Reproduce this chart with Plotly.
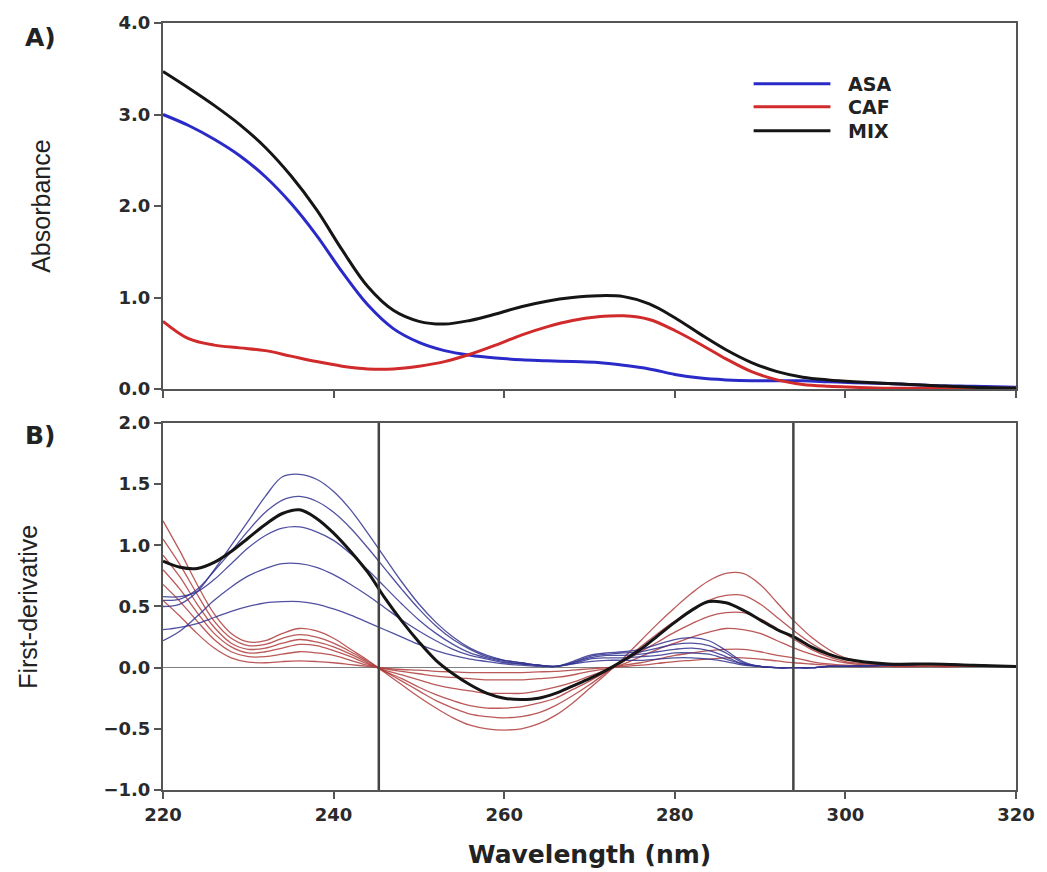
import plotly.graph_objects as go
from plotly.subplots import make_subplots

# ---------------- Panel A: absorbance spectra ----------------
wl_abs = [220, 223, 226, 229, 232, 235, 238, 241, 244, 247, 250, 253, 256, 259, 262,
          265, 268, 271, 274, 277, 280, 283, 286, 289, 292, 295, 298, 301, 305, 310,
          315, 320]
asa_abs = [3.00, 2.88, 2.73, 2.55, 2.32, 2.03, 1.68, 1.28, 0.92, 0.66, 0.51, 0.42, 0.37,
           0.34, 0.32, 0.31, 0.30, 0.29, 0.26, 0.22, 0.16, 0.12, 0.10, 0.09, 0.09, 0.09,
           0.08, 0.07, 0.06, 0.04, 0.03, 0.02]
caf_abs = [0.74, 0.55, 0.48, 0.45, 0.42, 0.36, 0.30, 0.25, 0.22, 0.22, 0.25, 0.30, 0.38,
           0.48, 0.59, 0.68, 0.75, 0.79, 0.80, 0.76, 0.64, 0.49, 0.33, 0.19, 0.10, 0.05,
           0.03, 0.02, 0.01, 0.01, 0.01, 0.01]
mix_abs = [3.47, 3.29, 3.10, 2.89, 2.64, 2.33, 1.96, 1.52, 1.12, 0.86, 0.74, 0.71, 0.75,
           0.82, 0.90, 0.96, 1.00, 1.02, 1.01, 0.93, 0.78, 0.60, 0.43, 0.29, 0.19, 0.13,
           0.10, 0.08, 0.06, 0.04, 0.02, 0.01]

# ---------------- Panel B: first-derivative spectra ----------------
wl_der = [220, 222, 224, 226, 228, 230, 232, 234, 236, 238, 240, 242, 244, 246, 248, 250,
          252, 254, 256, 258, 260, 262, 264, 266, 268, 270, 272, 274, 276, 278, 280, 282,
          284, 286, 288, 290, 292, 294, 296, 298, 300, 305, 310, 315, 320]

asa_der = [
    [0.50, 0.52, 0.62, 0.80, 1.00, 1.20, 1.40, 1.56, 1.58, 1.54, 1.44, 1.29, 1.10, 0.90,
     0.70, 0.52, 0.37, 0.25, 0.16, 0.10, 0.06, 0.04, 0.02, 0.01, 0.05, 0.10, 0.12, 0.13,
     0.15, 0.19, 0.23, 0.245, 0.22, 0.14, 0.05, 0.01, 0.00, 0.00, 0.00, 0.01, 0.01, 0.02,
     0.03, 0.02, 0.01],
    [0.55, 0.56, 0.64, 0.79, 0.95, 1.12, 1.27, 1.37, 1.40, 1.36, 1.27, 1.14, 0.98, 0.81,
     0.64, 0.48, 0.34, 0.23, 0.15, 0.09, 0.06, 0.04, 0.02, 0.01, 0.04, 0.09, 0.11, 0.12,
     0.13, 0.16, 0.19, 0.20, 0.18, 0.12, 0.04, 0.01, 0.00, 0.00, 0.00, 0.01, 0.01, 0.02,
     0.03, 0.02, 0.01],
    [0.58, 0.58, 0.62, 0.72, 0.85, 0.98, 1.08, 1.14, 1.15, 1.11, 1.04, 0.93, 0.80, 0.66,
     0.52, 0.39, 0.28, 0.19, 0.12, 0.08, 0.05, 0.03, 0.02, 0.01, 0.04, 0.08, 0.10, 0.10,
     0.11, 0.13, 0.15, 0.16, 0.14, 0.09, 0.03, 0.01, 0.00, 0.00, 0.00, 0.01, 0.01, 0.02,
     0.03, 0.02, 0.01],
    [0.22, 0.30, 0.42, 0.55, 0.66, 0.75, 0.81, 0.85, 0.85, 0.82, 0.76, 0.68, 0.59, 0.49,
     0.39, 0.30, 0.22, 0.15, 0.10, 0.07, 0.04, 0.03, 0.02, 0.01, 0.03, 0.07, 0.08, 0.08,
     0.09, 0.10, 0.12, 0.12, 0.11, 0.07, 0.03, 0.01, 0.00, 0.00, 0.00, 0.01, 0.01, 0.02,
     0.03, 0.02, 0.01],
    [0.31, 0.33, 0.36, 0.41, 0.46, 0.50, 0.53, 0.54, 0.54, 0.52, 0.48, 0.43, 0.37, 0.31,
     0.25, 0.19, 0.14, 0.10, 0.07, 0.05, 0.03, 0.02, 0.01, 0.01, 0.03, 0.05, 0.06, 0.06,
     0.06, 0.07, 0.08, 0.08, 0.07, 0.05, 0.02, 0.01, 0.00, 0.00, 0.00, 0.01, 0.01, 0.02,
     0.03, 0.02, 0.01],
]

caf_der = [
    [1.20, 0.95, 0.68, 0.44, 0.28, 0.21, 0.22, 0.28, 0.32, 0.30, 0.24, 0.15, 0.06, -0.04,
     -0.14, -0.24, -0.33, -0.41, -0.47, -0.50, -0.51, -0.50, -0.46, -0.39, -0.29, -0.17,
     -0.05, 0.08, 0.22, 0.36, 0.49, 0.61, 0.71, 0.77, 0.77, 0.68, 0.53, 0.38, 0.25, 0.15,
     0.08, 0.02, 0.01, 0.01, 0.01],
    [1.05, 0.84, 0.60, 0.38, 0.24, 0.18, 0.19, 0.24, 0.27, 0.25, 0.20, 0.13, 0.05, -0.03,
     -0.11, -0.19, -0.27, -0.33, -0.38, -0.40, -0.41, -0.40, -0.37, -0.31, -0.23, -0.14,
     -0.04, 0.06, 0.17, 0.28, 0.38, 0.47, 0.55, 0.59, 0.59, 0.52, 0.41, 0.30, 0.20, 0.12,
     0.07, 0.02, 0.01, 0.01, 0.01],
    [0.92, 0.74, 0.52, 0.33, 0.20, 0.15, 0.16, 0.20, 0.23, 0.21, 0.17, 0.11, 0.04, -0.03,
     -0.09, -0.16, -0.22, -0.27, -0.31, -0.33, -0.33, -0.32, -0.29, -0.25, -0.18, -0.11,
     -0.03, 0.05, 0.13, 0.21, 0.29, 0.36, 0.42, 0.45, 0.45, 0.40, 0.32, 0.23, 0.15, 0.09,
     0.05, 0.02, 0.01, 0.01, 0.01],
    [0.80, 0.64, 0.45, 0.28, 0.17, 0.12, 0.13, 0.16, 0.19, 0.18, 0.14, 0.09, 0.03, -0.02,
     -0.06, -0.10, -0.14, -0.17, -0.19, -0.21, -0.21, -0.21, -0.19, -0.16, -0.12, -0.07,
     -0.02, 0.03, 0.09, 0.15, 0.20, 0.25, 0.29, 0.32, 0.31, 0.28, 0.22, 0.16, 0.11, 0.07,
     0.04, 0.01, 0.01, 0.01, 0.01],
    [0.68, 0.54, 0.38, 0.23, 0.13, 0.09, 0.09, 0.11, 0.13, 0.12, 0.10, 0.06, 0.02, -0.01,
     -0.03, -0.05, -0.07, -0.08, -0.09, -0.10, -0.10, -0.10, -0.09, -0.08, -0.06, -0.03,
     -0.01, 0.02, 0.04, 0.07, 0.10, 0.12, 0.14, 0.15, 0.15, 0.13, 0.10, 0.08, 0.05, 0.03,
     0.02, 0.01, 0.01, 0.01, 0.01],
    [0.55, 0.42, 0.28, 0.16, 0.08, 0.045, 0.04, 0.05, 0.055, 0.05, 0.04, 0.025, 0.01,
     -0.005, -0.015, -0.02, -0.03, -0.035, -0.04, -0.04, -0.04, -0.04, -0.035, -0.03,
     -0.02, -0.01, 0.00, 0.01, 0.02, 0.035, 0.05, 0.06, 0.07, 0.08, 0.08, 0.07, 0.055,
     0.04, 0.03, 0.02, 0.01, 0.01, 0.01, 0.01, 0.01],
]

mix_der = [0.87, 0.82, 0.81, 0.86, 0.95, 1.06, 1.17, 1.26, 1.29, 1.22, 1.10, 0.95, 0.78,
           0.57, 0.38, 0.21, 0.06, -0.05, -0.14, -0.21, -0.25, -0.26, -0.25, -0.21, -0.15,
           -0.09, -0.02, 0.06, 0.15, 0.26, 0.37, 0.47, 0.54, 0.53, 0.47, 0.39, 0.31, 0.25,
           0.17, 0.11, 0.07, 0.03, 0.03, 0.02, 0.01]

# zero-crossing wavelengths used for quantitation
zero_crossings = [245.3, 293.9]

legend_names = ["ASA", "CAF", "MIX"]

BLUE = "#2a2ac8"
RED = "#d02a2a"
BLACK = "#151515"
AXIS = "#555555"
TICKFONT = dict(family="DejaVu Sans", size=18, color="#2a2a2a", weight="bold")
TITLEFONT = "Liberation Sans Narrow, Liberation Sans, Arial, sans-serif"
YPAD = "\u2002\u2009"  # gap between y tick labels and tick marks

W, H = 1047, 872
L, R, T, B = 163, 29, 21, 82
PW, PH = W - L - R, H - T - B


def px_x(px):
    return (px - L) / PW


def px_y(py):
    return (H - B - py) / PH


fig = make_subplots(rows=2, cols=1)

fig.add_trace(go.Scatter(x=wl_abs, y=asa_abs, mode="lines", line=dict(color=BLUE, width=3, shape="spline")), row=1, col=1)
fig.add_trace(go.Scatter(x=wl_abs, y=caf_abs, mode="lines", line=dict(color=RED, width=3, shape="spline")), row=1, col=1)
fig.add_trace(go.Scatter(x=wl_abs, y=mix_abs, mode="lines", line=dict(color=BLACK, width=3, shape="spline")), row=1, col=1)

for ys in caf_der:
    fig.add_trace(go.Scatter(x=wl_der, y=ys, mode="lines",
                             line=dict(color="rgba(175,60,60,0.85)", width=1.3, shape="spline")), row=2, col=1)
for ys in asa_der:
    fig.add_trace(go.Scatter(x=wl_der, y=ys, mode="lines",
                             line=dict(color="rgba(50,50,145,0.85)", width=1.3, shape="spline")), row=2, col=1)
fig.add_trace(go.Scatter(x=wl_der, y=mix_der, mode="lines",
                         line=dict(color=BLACK, width=3, shape="spline")), row=2, col=1)

for wl in zero_crossings:
    fig.add_shape(type="line", xref="x2", yref="y2 domain", x0=wl, x1=wl, y0=0, y1=1,
                  line=dict(color="#444444", width=2.5))

axis_common = dict(showgrid=False, showline=True, linecolor=AXIS, linewidth=2, mirror=True,
                   ticks="outside", ticklen=7, tickwidth=2, tickcolor=AXIS, tickfont=TICKFONT)

fig.update_xaxes(range=[220, 320], tickvals=[220, 240, 260, 280, 300, 320], zeroline=False,
                 **axis_common)
fig.update_xaxes(showticklabels=False, row=1, col=1)
fig.update_yaxes(ticksuffix=YPAD, **axis_common)
fig.update_yaxes(range=[0, 4], tickvals=[0, 1, 2, 3, 4], tickformat=".1f", zeroline=False,
                 domain=[px_y(388), 1], row=1, col=1)
fig.update_yaxes(range=[-1, 2], tickvals=[-1, -0.5, 0, 0.5, 1, 1.5, 2], tickformat=".1f",
                 zeroline=True, zerolinecolor="#808080", zerolinewidth=1,
                 domain=[0, px_y(422)], row=2, col=1)
fig.update_xaxes(domain=[0, 1])

anns = []
for text, py in [("A)", 36), ("B)", 435)]:
    anns.append(dict(text=text, x=px_x(40), y=px_y(py), xref="paper", yref="paper",
                     showarrow=False, xanchor="center", yanchor="middle",
                     font=dict(family="DejaVu Sans", size=25, color="#222", weight="bold")))
anns.append(dict(text="Absorbance", x=px_x(40), y=px_y(205), xref="paper", yref="paper",
                 showarrow=False, textangle=-90, xanchor="center", yanchor="middle",
                 font=dict(family=TITLEFONT, size=25, color="#222")))
anns.append(dict(text="First-derivative", x=px_x(28), y=px_y(606), xref="paper", yref="paper",
                 showarrow=False, textangle=-90, xanchor="center", yanchor="middle",
                 font=dict(family=TITLEFONT, size=25, color="#222")))
anns.append(dict(text="Wavelength (nm)", x=px_x(590), y=px_y(855), xref="paper", yref="paper",
                 showarrow=False, xanchor="center", yanchor="middle",
                 font=dict(family="DejaVu Sans", size=25, color="#222", weight="bold")))

# legend block drawn inside panel A
legend_colors = [BLUE, RED, BLACK]
legend_rows = [82, 105, 129]
for name, col, py in zip(legend_names, legend_colors, legend_rows):
    fig.add_shape(type="line", xref="paper", yref="paper", x0=px_x(755), x1=px_x(832),
                  y0=px_y(py), y1=px_y(py), line=dict(color=col, width=3))
    anns.append(dict(text=name, x=px_x(848), y=px_y(py), xref="paper", yref="paper",
                     showarrow=False, xanchor="left", yanchor="middle",
                     font=dict(family="DejaVu Sans", size=19, color="#222", weight="bold")))

fig.update_layout(width=W, height=H, margin=dict(l=L, r=R, t=T, b=B),
                  plot_bgcolor="white", paper_bgcolor="white", showlegend=False,
                  annotations=anns)

fig.write_html("out.html")
